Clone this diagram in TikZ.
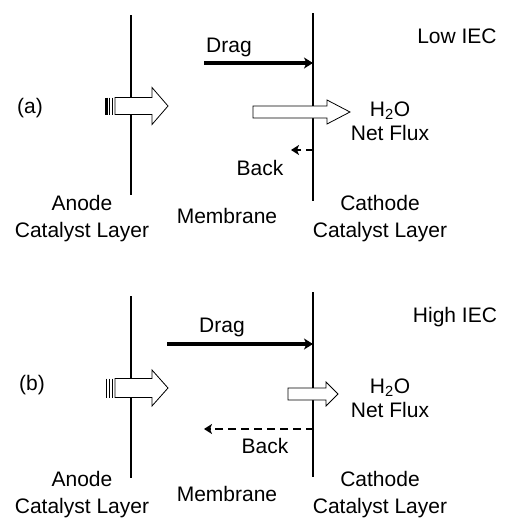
\documentclass[tikz,border=0pt]{standalone}
\usepackage{fontspec}
\setmainfont{Liberation Sans}
\usetikzlibrary{positioning,arrows.meta}
\tikzset{
    lbl/.style={
        inner sep=0pt,
        align=center,
        font=\fontsize{21}{27}\selectfont
    },
    flux/.style={
        inner sep=0pt,
        align=center,
        font=\fontsize{21}{24}\selectfont
    },
    layer/.style={line width=2.8pt,black},
    hollow/.style={draw=black,fill=white,line width=0.8pt,line join=miter},
    stripe/.style={line width=1.4pt,black},
    drag/.style={-{Stealth[length=9pt,width=11pt,inset=2.5pt]},line width=3.6pt,black},
    back/.style={-{Stealth[length=8pt,width=10pt,inset=2pt]},line width=2pt,black,dash pattern=on 8pt off 5pt}
}

\begin{document}
\begin{tikzpicture}[x=1pt,y=-1pt]
\useasboundingbox (0,0) rectangle (509,520);

% (a) low IEC
\coordinate (anodeAtop) at (131,15);
\coordinate (anodeAbot) at (131,195);
\coordinate (cathAtop) at (313,13);
\coordinate (cathAbot) at (313,201);
\draw[layer] (anodeAtop) -- (anodeAbot);
\draw[layer] (cathAtop) -- (cathAbot);

\coordinate (dragAstart) at (204,63);
\coordinate (dragAend) at (313,63);
\draw[drag] (dragAstart) -- (dragAend);
\coordinate (backAstart) at (314,150);
\coordinate (backAend) at (291,150);
\draw[back] (backAstart) -- (backAend);

\draw[hollow] (115,97.5) -- (152,97.5) -- (152,87.5) -- (168,106) -- (152,124.5)
    -- (152,114.5) -- (115,114.5) -- cycle;
\draw[stripe,line width=2.6pt] (106.5,97.5) -- (106.5,114.5);
\draw[stripe,line width=1pt] (109.5,97.5) -- (109.5,114.5);
\draw[stripe,line width=1pt] (112.5,97.5) -- (112.5,114.5);
\draw[hollow] (253,106) -- (327,106) -- (327,100) -- (350,112) -- (327,124)
    -- (327,118) -- (253,118) -- cycle;

\node[lbl] (labA) at (30,108) {(a)};
\node[lbl] (iecA) at (457,36) {Low IEC};
\node[lbl] (dragA) at (229,47) {Drag};
\node[lbl] (backA) at (260,168) {Back};
\node[flux] (fluxA) at (390,121) {H\textsubscript{2}O\\Net Flux};
\node[lbl] (anodeA) at (82,218.5) {Anode\\Catalyst Layer};
\node[lbl] (memA) at (227,216) {Membrane};
\node[lbl] (cathA) at (380,218.5) {Cathode\\Catalyst Layer};

% (b) high IEC
\coordinate (anodeBtop) at (131,296);
\coordinate (anodeBbot) at (131,478);
\coordinate (cathBtop) at (313,292);
\coordinate (cathBbot) at (313,477);
\draw[layer] (anodeBtop) -- (anodeBbot);
\draw[layer] (cathBtop) -- (cathBbot);

\coordinate (dragBstart) at (167,344);
\coordinate (dragBend) at (313,344);
\draw[drag] (dragBstart) -- (dragBend);
\coordinate (backBstart) at (314,429);
\coordinate (backBend) at (204,429);
\draw[back] (backBstart) -- (backBend);

\draw[hollow] (115,378.5) -- (152,378.5) -- (152,370) -- (168,388) -- (152,406)
    -- (152,397.5) -- (115,397.5) -- cycle;
\draw[stripe] (106.5,378.5) -- (106.5,397.5);
\draw[stripe] (109.5,378.5) -- (109.5,397.5);
\draw[stripe] (112.5,378.5) -- (112.5,397.5);
\draw[hollow] (288,388) -- (326,388) -- (326,382) -- (338,394) -- (326,406)
    -- (326,400) -- (288,400) -- cycle;

\node[lbl] (labB) at (32,385) {(b)};
\node[lbl] (iecB) at (455,317) {High IEC};
\node[lbl] (dragB) at (222,327) {Drag};
\node[lbl] (backB) at (265,446) {Back};
\node[flux] (fluxB) at (390,398) {H\textsubscript{2}O\\Net Flux};
\node[lbl] (anodeB) at (82,494.5) {Anode\\Catalyst Layer};
\node[lbl] (memB) at (227,494) {Membrane};
\node[lbl] (cathB) at (380,494.5) {Cathode\\Catalyst Layer};
\end{tikzpicture}
\end{document}
